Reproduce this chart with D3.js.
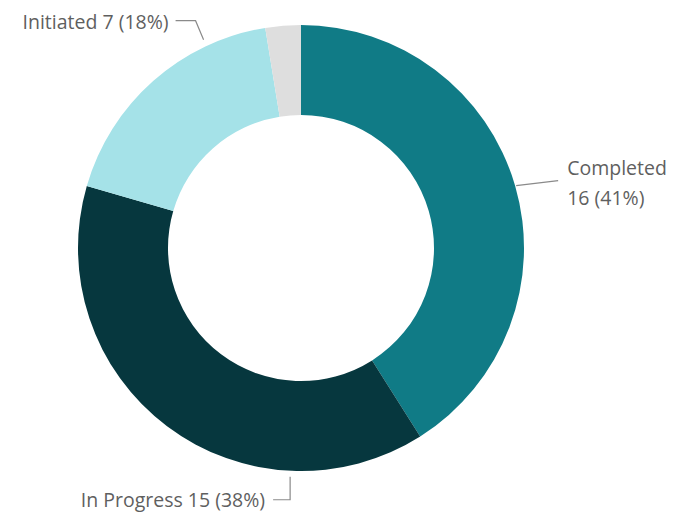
<!DOCTYPE html>
<html lang="en">
<head>
<meta charset="UTF-8">
<title>Status donut</title>
<style>
    html, body { margin: 0; padding: 0; background: #fff; }
    svg { display: block; }
    .lbl { font-family: "Open Sans", "Noto Sans", sans-serif; font-size: 19.5px; fill: #5f5f5f; }
    .leader { fill: none; stroke: #8a8a8a; stroke-width: 1.2px; }
</style>
</head>
<body>
<svg width="674" height="518"></svg>
<script src="https://d3js.org/d3.v7.min.js"></script>
<script>
    // data
    const categories = ["Completed", "In Progress", "Initiated", "Other"];
    const counts = [16, 15, 7, 1];
    const colors = ["#107b86", "#06373e", "#a5e2e8", "#dedede"];

    const cx = 301, cy = 248, outerR = 223, innerR = 133;

    const svg = d3.select("svg");
    const g = svg.append("g").attr("transform", `translate(${cx},${cy})`);

    const total = d3.sum(counts);
    const pie = d3.pie().sort(null).value(d => d.value);
    const arcs = pie(categories.map((c, i) => ({ name: c, value: counts[i], color: colors[i] })));

    const arc = d3.arc().innerRadius(innerR).outerRadius(outerR);

    g.selectAll(".slice")
        .data(arcs)
        .enter().append("path")
        .attr("class", "slice")
        .attr("d", arc)
        .attr("fill", d => d.data.color);

    const pct = v => Math.round(v / total * 100) + "%";

    // point just outside the ring at a fraction t along the slice
    function edge(d, t, r) {
        const a = d.startAngle + (d.endAngle - d.startAngle) * t;
        return [Math.sin(a) * r, -Math.cos(a) * r];
    }

    // Completed - label on the right, two lines
    (function () {
        const d = arcs[0];
        const p0 = edge(d, 0.5, outerR + 1);
        const p1 = [p0[0] + 42, p0[1] - 5];
        g.append("path").attr("class", "leader")
            .attr("d", d3.line()([p0, p1]));
        const t = g.append("text").attr("class", "lbl")
            .attr("x", p1[0] + 9).attr("y", p1[1] - 6);
        t.append("tspan").text(d.data.name);
        t.append("tspan").attr("x", p1[0] + 9).attr("dy", 30)
            .text(`${d.data.value} (${pct(d.data.value)})`);
    })();

    // In Progress - label bottom
    (function () {
        const d = arcs[1];
        const p0 = edge(d, 0.253, outerR + 6);
        const p1 = [p0[0], p0[1] + 23];
        const p2 = [p1[0] - 17, p1[1]];
        g.append("path").attr("class", "leader")
            .attr("d", d3.line()([p0, p1, p2]));
        g.append("text").attr("class", "lbl")
            .attr("x", p2[0] - 8).attr("y", p2[1] + 7)
            .attr("text-anchor", "end")
            .text(`${d.data.name} ${d.data.value} (${pct(d.data.value)})`);
    })();

    // Initiated - label top left
    (function () {
        const d = arcs[2];
        const p0 = edge(d, 0.755, outerR + 7);
        const p1 = [p0[0] - 8, p0[1] - 19];
        const p2 = [p1[0] - 20, p1[1]];
        g.append("path").attr("class", "leader")
            .attr("d", d3.line()([p0, p1, p2]));
        g.append("text").attr("class", "lbl")
            .attr("x", p2[0] - 7).attr("y", p2[1] + 8)
            .attr("text-anchor", "end")
            .text(`${d.data.name} ${d.data.value} (${pct(d.data.value)})`);
    })();
</script>
</body>
</html>
